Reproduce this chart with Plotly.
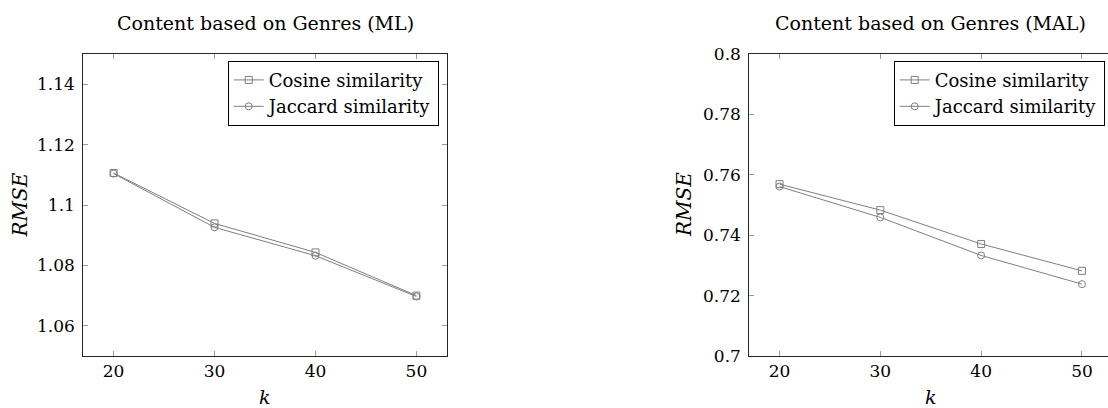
import plotly.graph_objects as go

# ---- data ----
k_values = [20, 30, 40, 50]
ml_cosine = [1.1106, 1.0939, 1.0843, 1.0700]
ml_jaccard = [1.1104, 1.0926, 1.0832, 1.0697]
mal_cosine = [0.7569, 0.7483, 0.7371, 0.7282]
mal_jaccard = [0.7561, 0.7459, 0.7333, 0.7238]

ml_ytick_vals = [1.06, 1.08, 1.10, 1.12, 1.14]
ml_ytick_text = ["1.06", "1.08", "1.1", "1.12", "1.14"]
mal_ytick_vals = [0.70, 0.72, 0.74, 0.76, 0.78, 0.80]
mal_ytick_text = ["0.7", "0.72", "0.74", "0.76", "0.78", "0.8"]
x_ticks = [20, 30, 40, 50]

titles = ["Content based on Genres (ML)", "Content based on Genres (MAL)"]
series_names = ["Cosine similarity", "Jaccard similarity"]

W, H = 1108, 408
FONT = "DejaVu Serif"
LINE = "#7f7f7f"

fig = go.Figure()

def add_series(xa, ya, legend, ys):
    for name, y, sym in zip(series_names, ys, ["square-open", "circle-open"]):
        fig.add_trace(go.Scatter(
            x=k_values, y=y, name=name, mode="lines+markers",
            xaxis=xa, yaxis=ya, legend=legend,
            line=dict(color=LINE, width=1),
            marker=dict(symbol=sym, size=7, color=LINE, line=dict(width=1, color=LINE)),
        ))

add_series("x", "y", "legend", [ml_cosine, ml_jaccard])
add_series("x2", "y2", "legend2", [mal_cosine, mal_jaccard])

top_px, bot_px = 54.3, 355.7
t = top_px
b = H - bot_px
left_dom = [83.3 / W, 446.7 / W]
right_dom = [749.3 / W, 1.0]

axis_common = dict(
    showgrid=False, zeroline=False, showline=True, linecolor="#262626", linewidth=1,
    ticks="inside", ticklen=5, tickcolor="#999999", tickwidth=1,
    tickfont=dict(family=FONT, size=17, color="black"),
)

fig.update_layout(
    width=W, height=H,
    margin=dict(l=0, r=0, t=t, b=b),
    paper_bgcolor="white", plot_bgcolor="white",
    showlegend=True,
    xaxis=dict(domain=left_dom, range=[17, 53], tickvals=x_ticks, mirror="ticks",
               anchor="y", **axis_common),
    yaxis=dict(domain=[0, 1], range=[1.05, 1.15], tickvals=ml_ytick_vals,
               ticktext=ml_ytick_text, mirror="ticks", anchor="x",
               ticklabelstandoff=4, **axis_common),
    xaxis2=dict(domain=right_dom, range=[17, 17 + (W - 749.3) / 10.08], tickvals=x_ticks,
                mirror="ticks", anchor="y2", **axis_common),
    yaxis2=dict(domain=[0, 1], range=[0.70, 0.80], tickvals=mal_ytick_vals,
                ticktext=mal_ytick_text, mirror=False, anchor="x2",
                ticklabelstandoff=4, **axis_common),
)

plot_h = bot_px - top_px
leg_common = dict(
    bgcolor="white", bordercolor="black", borderwidth=1,
    font=dict(family=FONT, size=18, color="black"),
    xanchor="right", yanchor="top", tracegroupgap=0,
    itemwidth=30,
)
fig.update_layout(
    legend=dict(x=438.7 / W, y=(bot_px - 61) / plot_h, **leg_common),
    legend2=dict(x=1104.7 / W, y=(bot_px - 61) / plot_h, **leg_common),
)

annos = []
for i, (ttl, xr) in enumerate(zip(titles, [363.4, 358.7])):
    sx = "" if i == 0 else "2"
    xc = 0.5 if i == 0 else (930.7 - 749.3) / xr
    annos.append(dict(text=ttl, xref=f"x{sx} domain", yref=f"y{sx} domain",
                      x=xc, y=1 + (top_px - 23) / plot_h,
                      showarrow=False, xanchor="center", yanchor="middle",
                      font=dict(family=FONT, size=19, color="black")))
    annos.append(dict(text="<i>k</i>", xref=f"x{sx} domain", yref=f"y{sx} domain",
                      x=xc, y=-(397 - bot_px) / plot_h,
                      showarrow=False, xanchor="center", yanchor="middle",
                      font=dict(family=FONT, size=19, color="black")))
    rx = 19.5 if i == 0 else 684.0
    x0 = 83.3 if i == 0 else 749.3
    annos.append(dict(text="<i>RMSE</i>", xref=f"x{sx} domain", yref=f"y{sx} domain",
                      x=-(x0 - rx) / xr, y=0.5, textangle=-90,
                      showarrow=False, xanchor="center", yanchor="middle",
                      font=dict(family=FONT, size=20, color="black")))
fig.update_layout(annotations=annos)

fig.write_html("out.html")
